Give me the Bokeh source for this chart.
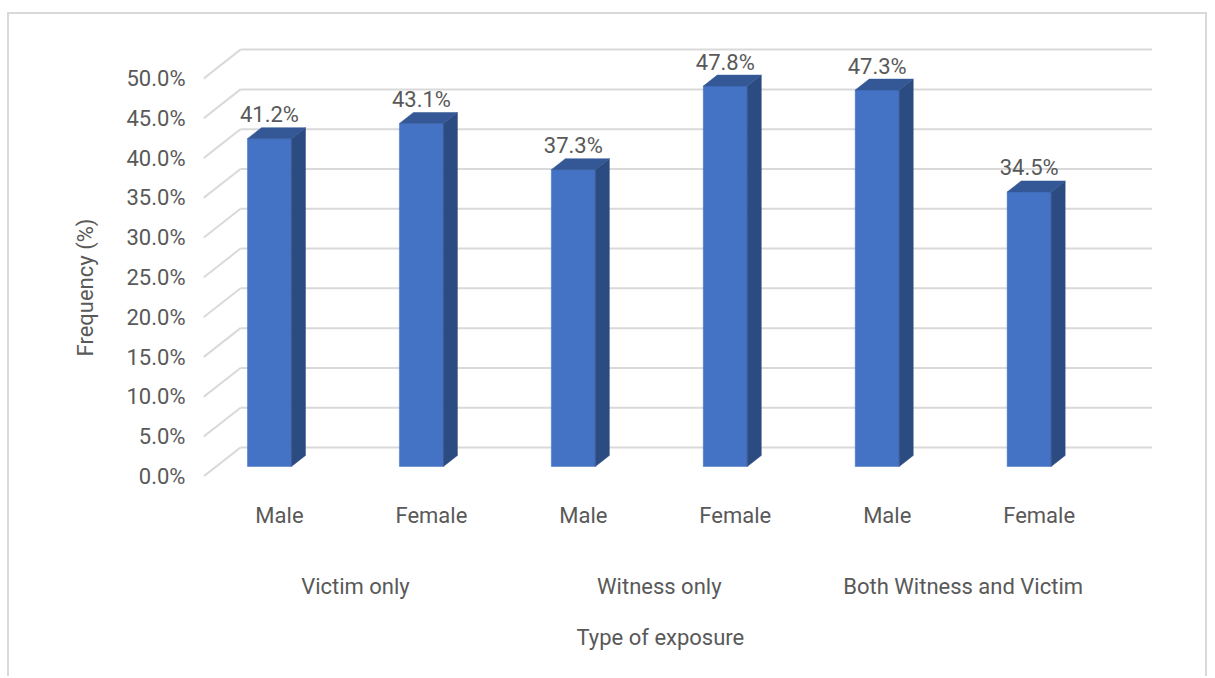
import math
from bokeh.plotting import figure
from bokeh.models import (FixedTicker, PrintfTickFormatter, LinearAxis, Title,
                          Range1d, ColumnDataSource)
from bokeh.core.properties import value
from bokeh.embed import file_html
from bokeh.resources import INLINE

# ---------------- data ----------------
groups = ["Victim only", "Witness only", "Both Witness and Victim"]
sexes = ["Male", "Female"]
male_pct = [41.2, 37.3, 47.3]
female_pct = [43.1, 47.8, 34.5]
y_ticks = [0, 5, 10, 15, 20, 25, 30, 35, 40, 45, 50]
x_title = "Type of exposure"
y_title = "Frequency (%)"

# ---------------- layout ----------------
W, H = 1200, 664
ML, MR, MT, MB = 194, 26, 6, 202
X0, X1 = -0.5, 5.95
Y0, Y1 = 0.0, 57.3
ux = (W - ML - MR) / (X1 - X0)   # px per x unit
uy = (H - MT - MB) / (Y1 - Y0)   # px per y unit

def px(d):
    return d / ux

def py(d):
    return d / uy

FONT = "Roboto"
TXT = "#595959"
GRID = "#D9D9D9"
FRONT = "#4472C4"
SIDE = "#2C4B80"
TOP = "#345896"

n = len(groups) * len(sexes)
series = [male_pct, female_pct]
xpos, vals, sub_labels = [], [], []
for gi, g in enumerate(groups):
    for si, s in enumerate(sexes):
        xpos.append(gi * len(sexes) + si)
        vals.append(series[si][gi])
        sub_labels.append(s)

p = figure(width=W, height=H, output_backend="svg", toolbar_location=None,
           x_range=Range1d(X0, X1), y_range=Range1d(Y0, Y1),
           min_border_left=ML, min_border_right=MR, min_border_top=MT,
           min_border_bottom=MB, background_fill_color="white",
           border_fill_color="white", outline_line_color=None)
p.grid.visible = False
p.styles = {"margin-left": "7px", "margin-top": "12px",
            "border": "2px solid #D9D9D9", "border-bottom": "none"}

# ---------------- 3D walls / gridlines ----------------
DX, DY = 37, 29  # wall depth in px
front_left = X0
back_left = front_left + px(DX)
back_right = n - 0.5 + px(DX)
grid_src = ColumnDataSource(dict(
    fx=[front_left] * len(y_ticks), fy=y_ticks,
    bx0=[back_left] * len(y_ticks), bx1=[back_right] * len(y_ticks),
    by=[t + py(DY) for t in y_ticks]))
p.segment(x0="fx", y0="fy", x1="bx0", y1="by", source=grid_src,
          line_color=GRID, line_width=2)
p.segment(x0="bx0", y0="by", x1="bx1", y1="by", source=grid_src,
          line_color=GRID, line_width=2)

# ---------------- bars ----------------
BL, BR, BZ = -32, 12, 10     # front face offsets (px)
SX, SY = 14, 11              # bar depth (px)
left = [x + px(BL) for x in xpos]
right = [x + px(BR) for x in xpos]
bottom = [py(BZ)] * n
top = [v + py(BZ) for v in vals]
p.quad(left=left, right=right, bottom=bottom, top=top,
       fill_color=FRONT, line_color=FRONT, line_width=0.5)
side_xs = [[r, r + px(SX), r + px(SX), r] for r in right]
side_ys = [[b, b + py(SY), t + py(SY), t] for b, t in zip(bottom, top)]
p.patches(xs=side_xs, ys=side_ys, fill_color=SIDE, line_color=SIDE, line_width=0.5)
top_xs = [[l, r, r + px(SX), l + px(SX)] for l, r in zip(left, right)]
top_ys = [[t, t, t + py(SY), t + py(SY)] for t in top]
p.patches(xs=top_xs, ys=top_ys, fill_color=TOP, line_color=TOP, line_width=0.5)

# data labels
p.text(x=[(l + r) / 2 for l, r in zip(left, right)], y=top,
       text=[f"{v:.1f}%" for v in vals], y_offset=-24,
       text_align="center", text_baseline="middle",
       text_font=value(FONT), text_font_size="22px", text_color=TXT)

# ---------------- axes ----------------
ya = p.yaxis[0]
ya.ticker = FixedTicker(ticks=y_ticks)
ya.formatter = PrintfTickFormatter(format="%.1f%%")
ya.axis_line_color = None
ya.major_tick_line_color = None
ya.minor_tick_line_color = None
ya.major_tick_out = 0
ya.major_label_standoff = 18
ya.major_label_text_font = FONT
ya.major_label_text_font_size = "22px"
ya.major_label_text_color = TXT

xa = p.xaxis[0]
xa.ticker = FixedTicker(ticks=xpos)
xa.major_label_overrides = {x: s for x, s in zip(xpos, sub_labels)}
xa.axis_line_color = None
xa.major_tick_line_color = None
xa.minor_tick_line_color = None
xa.major_tick_out = 0
xa.major_label_standoff = 26
xa.major_label_text_font = FONT
xa.major_label_text_font_size = "22px"
xa.major_label_text_color = TXT

gpos = [gi * len(sexes) + (len(sexes) - 1) / 2 for gi in range(len(groups))]
xa2 = LinearAxis(ticker=FixedTicker(ticks=gpos),
                 major_label_overrides={g: s for g, s in zip(gpos, groups)})
xa2.axis_line_color = None
xa2.major_tick_line_color = None
xa2.minor_tick_line_color = None
xa2.major_tick_out = 0
xa2.major_label_standoff = 43
xa2.major_label_text_font = FONT
xa2.major_label_text_font_size = "22px"
xa2.major_label_text_color = TXT
p.add_layout(xa2, "below")

p.add_layout(Title(text=x_title, align="left", offset=373, standoff=46,
                   vertical_align="top", text_font=FONT, text_font_size="22px",
                   text_font_style="normal", text_color=TXT), "below")
p.add_layout(Title(text=y_title, align="left", offset=120, standoff=50,
                   vertical_align="middle", text_font=FONT,
                   text_font_size="22px", text_font_style="normal",
                   text_color=TXT), "left")

open("out.html", "w").write(file_html(p, INLINE))
